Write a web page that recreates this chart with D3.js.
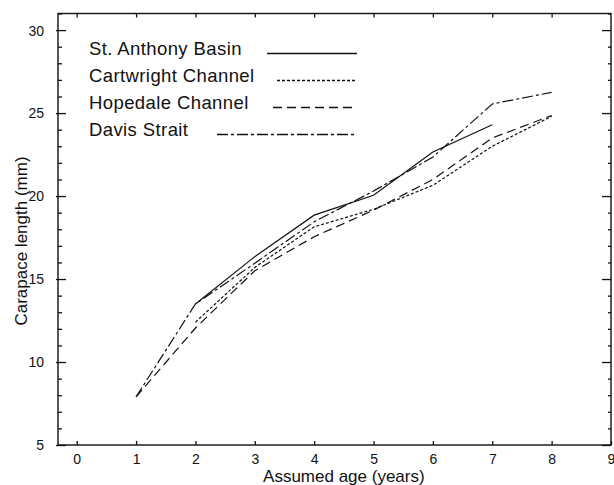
<!DOCTYPE html>
<html><head><meta charset="utf-8">
<script src="https://cdn.jsdelivr.net/npm/d3@7"></script>
<style>body{margin:0;background:#fff}svg{display:block}text{font-family:"Liberation Sans",Arial,Helvetica,sans-serif;fill:#111}</style>
</head><body><svg id="c" width="614" height="485"></svg>
<script>
const seriesNames = ["St. Anthony Basin","Cartwright Channel","Hopedale Channel","Davis Strait"];
const stAnthonyAges = [2,3,4,5,6,7];
const stAnthonyLen  = [13.5,16.35,18.85,20.05,22.65,24.3];
const cartwrightAges = [2,3,4,5,6,7,8];
const cartwrightLen  = [12.4,15.7,18.15,19.2,20.65,23.0,24.8];
const hopedaleAges = [1,2,3,4,5,6,7,8];
const hopedaleLen  = [7.9,12.05,15.5,17.55,19.15,21.0,23.5,24.85];
const davisAges = [1,2,3,4,5,6,7,8];
const davisLen  = [7.9,13.5,15.95,18.45,20.3,22.35,25.55,26.25];
const xTicks = [0,1,2,3,4,5,6,7,8,9];
const yTicks = [5,10,15,20,25,30];
const yMinor = d3.range(5,32,1).filter(v=>v%5!==0);
const dashes = [null,"3,2","9,5","11,3,3,3"];

(function(){
const svg = d3.select("#c");
const L=58,R=611,T=13.5,B=445;
const x = d3.scaleLinear().domain([-0.315,9]).range([L,R]);
const y = d3.scaleLinear().domain([5,31]).range([B,T]);

svg.append("rect").attr("x",L).attr("y",T).attr("width",R-L).attr("height",B-T)
  .attr("fill","none").attr("stroke","#111").attr("stroke-width",1.4);

const axBottom = d3.axisBottom(x).tickValues(xTicks).tickSize(-4).tickPadding(8).tickFormat(d3.format("d"));
const gb = svg.append("g").attr("transform",`translate(0,${B})`).call(axBottom);
const axTop = d3.axisTop(x).tickValues(xTicks.slice(0,9)).tickSize(-4).tickFormat("");
const gt = svg.append("g").attr("transform",`translate(0,${T})`).call(axTop);
const axLeft = d3.axisLeft(y).tickValues(yTicks).tickSize(-8).tickPadding(14);
const gl = svg.append("g").attr("transform",`translate(${L},0)`).call(axLeft);
const axLeftMinor = d3.axisLeft(y).tickValues(yMinor).tickSize(-4).tickFormat("");
const glm = svg.append("g").attr("transform",`translate(${L},0)`).call(axLeftMinor);
const axRight = d3.axisRight(y).tickValues(yTicks).tickSize(-9).tickFormat("");
const gr = svg.append("g").attr("transform",`translate(${R},0)`).call(axRight);
const axRightMinor = d3.axisRight(y).tickValues(yMinor).tickSize(-3).tickFormat("");
const grm = svg.append("g").attr("transform",`translate(${R},0)`).call(axRightMinor);
[gb,gt,gl,glm,gr,grm].forEach(g=>{
  g.select(".domain").remove();
  g.selectAll(".tick line").attr("stroke","#111").attr("stroke-width",1.3);
  g.selectAll("text").attr("font-size",14).attr("fill","#111").style("font-family","Liberation Sans, Arial, sans-serif");
});
gb.selectAll(".tick text").attr("dy","0.75em");
gl.selectAll(".tick text").attr("dy","0.35em");
gl.selectAll(".tick line").attr("x1",-2);

svg.append("text").attr("x",(x(0)+x(9))/2).attr("y",482).attr("text-anchor","middle")
  .attr("font-size",17).text("Assumed age (years)");
svg.append("text").attr("transform","translate(27,241) rotate(-90)").attr("text-anchor","middle")
  .attr("font-size",17).text("Carapace length (mm)");

const data = [
  stAnthonyAges.map((a,i)=>[a,stAnthonyLen[i]]),
  cartwrightAges.map((a,i)=>[a,cartwrightLen[i]]),
  hopedaleAges.map((a,i)=>[a,hopedaleLen[i]]),
  davisAges.map((a,i)=>[a,davisLen[i]])
];
const line = d3.line().x(d=>x(d[0])).y(d=>y(d[1]));
data.forEach((s,i)=>{
  svg.append("path").attr("d",line(s)).attr("fill","none").attr("stroke","#111")
    .attr("stroke-width",1.2).attr("stroke-dasharray",dashes[i]);
});

const legY = [55,82,109,136];
const legX0 = [267,277,273,217];
seriesNames.forEach((n,i)=>{
  svg.append("text").attr("x",89).attr("y",legY[i]).attr("font-size",18.5)
    .attr("letter-spacing","0.4px").text(n);
  svg.append("line").attr("x1",legX0[i]).attr("x2",357).attr("y1",legY[i]-1.5).attr("y2",legY[i]-1.5)
    .attr("stroke","#111").attr("stroke-width",1.5).attr("stroke-dasharray",dashes[i]);
});
})();
</script></body></html>
